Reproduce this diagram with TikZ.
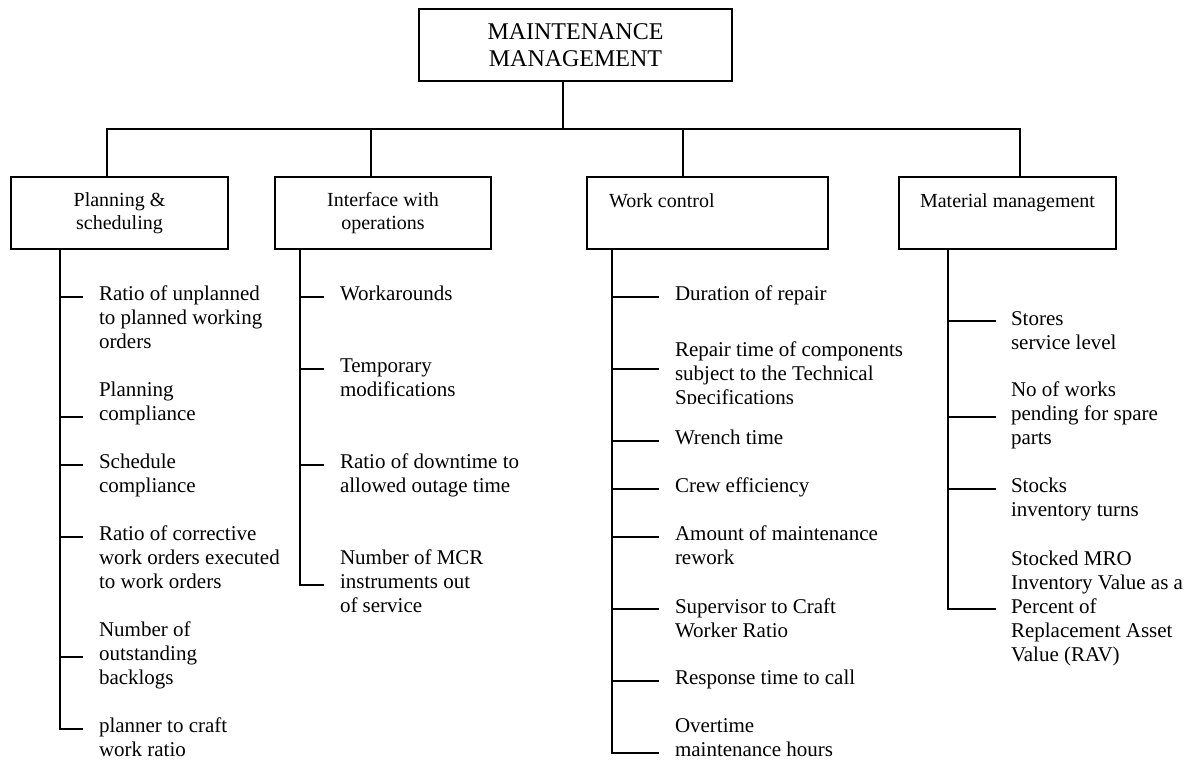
\documentclass[tikz,border=0pt]{standalone}
\usepackage{fontspec}
\setmainfont{Liberation Serif}

\begin{document}
\begin{tikzpicture}[x=0.5pt,y=-0.5pt,line width=1pt,
    box/.style={draw,inner sep=0pt,minimum height=36pt,align=center,font=\fontsize{10}{11.5}\selectfont},
    boxtext/.style={inner sep=0pt,font=\fontsize{10}{11.5}\selectfont},
    item/.style={inner sep=0pt,align=left,anchor=base west,font=\fontsize{10.5}{12}\selectfont}]
    \useasboundingbox (0,0) rectangle (1195,760);

    % top of the tree
    \node[box,minimum width=156.5pt,font=\fontsize{12}{13.5}\selectfont] (mm) at (575.5,45) {MAINTENANCE\\MANAGEMENT};

    % the four areas
    \node[box,minimum width=108.5pt] (plan) at (119.5,213) {Planning \&\\scheduling};
    \node[box,minimum width=108pt] (iface) at (383,213) {Interface with\\operations};
    \node[box,minimum width=120.5pt] (work) at (707.5,213) {};
    \node[box,minimum width=108.5pt] (mat) at (1007.5,213) {};
    \node[boxtext,anchor=base west] (worklbl) at (608,207) {Work control};
    \node[boxtext,anchor=base] (matlbl) at (1007.5,207) {Material management};

    % bus between the levels
    \coordinate (bus) at (563,129);
    \coordinate (d1) at (107,129);
    \coordinate (d2) at (371,129);
    \coordinate (d3) at (683,129);
    \coordinate (d4) at (1020,129);
    \draw (mm.south -| bus) -- (bus);
    \draw (plan.north -| d1) -- (d1) -- (d4) -- (mat.north -| d4);
    \draw (d2) -- (iface.north -| d2);
    \draw (d3) -- (work.north -| d3);

    % planning & scheduling (items sit on the baseline of their last line)
    \coordinate (ps) at (59.5,249);
    \coordinate (pt1) at (83,297);
    \coordinate (pt2) at (83,417);
    \coordinate (pt3) at (83,465);
    \coordinate (pt4) at (83,537);
    \coordinate (pt5) at (83,657);
    \coordinate (pt6) at (83,729);
    \node[item] (p1) at (98,348.5) {Ratio of unplanned\\to planned working\\orders};
    \node[item] (p2) at (98,420.5) {Planning\\compliance};
    \node[item] (p3) at (98,492.5) {Schedule\\compliance};
    \node[item] (p4) at (98,588.5) {Ratio of corrective\\work orders executed\\to work orders};
    \node[item] (p5) at (98,684.5) {Number of\\outstanding\\backlogs};
    \node[item] (p6) at (98,756.5) {planner to craft\\work ratio};
    \draw (ps |- plan.south) -- (ps |- pt6) -- (pt6);
    \draw (ps |- pt1) -- (pt1);
    \draw (ps |- pt2) -- (pt2);
    \draw (ps |- pt3) -- (pt3);
    \draw (ps |- pt4) -- (pt4);
    \draw (ps |- pt5) -- (pt5);

    % interface with operations
    \coordinate (is) at (299.5,249);
    \coordinate (it1) at (324,297);
    \coordinate (it2) at (324,369);
    \coordinate (it3) at (324,465);
    \coordinate (it4) at (324,585);
    \node[item] (i1) at (339,300.5) {Workarounds};
    \node[item] (i2) at (339,396.5) {Temporary\\modifications};
    \node[item] (i3) at (339,492.5) {Ratio of downtime to\\allowed outage time};
    \node[item] (i4) at (339,612.5) {Number of MCR\\instruments out\\of service};
    \draw (is |- iface.south) -- (is |- it4) -- (it4);
    \draw (is |- it1) -- (it1);
    \draw (is |- it2) -- (it2);
    \draw (is |- it3) -- (it3);

    % work control
    \coordinate (ws) at (611.5,249);
    \coordinate (wt1) at (659,297);
    \coordinate (wt2) at (659,369);
    \coordinate (wt3) at (659,441);
    \coordinate (wt4) at (659,489);
    \coordinate (wt5) at (659,537);
    \coordinate (wt6) at (659,609);
    \coordinate (wt7) at (659,681);
    \coordinate (wt8) at (659,753);
    \node[item] (w1) at (674,300.5) {Duration of repair};
    \begin{scope}
        \clip (665,330) rectangle (950,403);
        \node[item] (w2) at (674,404) {Repair time of components\\subject to the Technical\\Specifications};
    \end{scope}
    \node[item] (w3) at (674,444) {Wrench time};
    \node[item] (w4) at (674,492) {Crew efficiency};
    \node[item] (w5) at (674,564) {Amount of maintenance\\rework};
    \node[item] (w6) at (674,637) {Supervisor to Craft\\Worker Ratio};
    \node[item] (w7) at (674,684) {Response time to call};
    \node[item] (w8) at (674,756) {Overtime\\maintenance hours};
    \draw (ws |- work.south) -- (ws |- wt8) -- (wt8);
    \draw (ws |- wt1) -- (wt1);
    \draw (ws |- wt2) -- (wt2);
    \draw (ws |- wt3) -- (wt3);
    \draw (ws |- wt4) -- (wt4);
    \draw (ws |- wt5) -- (wt5);
    \draw (ws |- wt6) -- (wt6);
    \draw (ws |- wt7) -- (wt7);

    % material management
    \coordinate (ms) at (947.5,249);
    \coordinate (mt1) at (996,321);
    \coordinate (mt2) at (996,417);
    \coordinate (mt3) at (996,489);
    \coordinate (mt4) at (996,609);
    \node[item] (m1) at (1010,349) {Stores\\service level};
    \node[item] (m2) at (1010,444) {No of works\\pending for spare\\parts};
    \node[item] (m3) at (1010,516) {Stocks\\inventory turns};
    \node[item] (m4) at (1010,661) {Stocked MRO\\Inventory Value as a\\Percent of\\Replacement Asset\\Value (RAV)};
    \draw (ms |- mat.south) -- (ms |- mt4) -- (mt4);
    \draw (ms |- mt1) -- (mt1);
    \draw (ms |- mt2) -- (mt2);
    \draw (ms |- mt3) -- (mt3);
\end{tikzpicture}
\end{document}
